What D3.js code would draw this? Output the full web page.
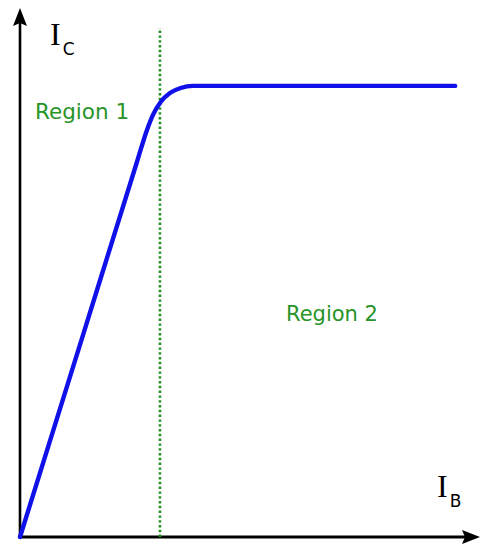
<!DOCTYPE html>
<html>
<head>
<meta charset="utf-8">
<script src="https://cdn.jsdelivr.net/npm/d3@7"></script>
<style>
  html, body { margin: 0; padding: 0; background: #fff; }
  svg { display: block; }
</style>
</head>
<body>
<svg id="chart" width="481" height="547"></svg>
<script>
// Transfer characteristic: collector current vs base current (arbitrary units)
const ibValues = [0, 14.1, 26.0, 28.2, 29.6, 31.3, 33.4, 35.7, 38.4, 96.7];
const icValues = [0, 38.6, 71.2, 77.2, 80.2, 82.6, 84.3, 85.2, 85.6, 85.6];

// Boundary between the two regions
const boundaryIb = [31.1];
const boundaryIc = [0, 96.6];

const regionLabels = ["Region 1", "Region 2"];
const axisLabels = [{ main: "I", sub: "C" }, { main: "I", sub: "B" }];

const svg = d3.select("#chart");

const x = d3.scaleLinear().domain([0, 100]).range([20, 470]);
const y = d3.scaleLinear().domain([0, 100]).range([537, 10]);

const green = "#289428";

// Axes with arrowheads
const ox = x(0), oy = y(0);
svg.append("line")
  .attr("x1", ox).attr("y1", oy)
  .attr("x2", 465).attr("y2", oy)
  .attr("stroke", "#000").attr("stroke-width", 2.8);
svg.append("line")
  .attr("x1", ox).attr("y1", oy + 1.4)
  .attr("x2", ox).attr("y2", 22)
  .attr("stroke", "#000").attr("stroke-width", 2.6);

svg.append("path")
  .attr("d", `M${ox},8 L${ox + 7},26 L${ox},23 L${ox - 7},26 Z`)
  .attr("fill", "#000");
svg.append("path")
  .attr("d", `M480,${oy} L462,${oy - 7} L465,${oy} L462,${oy + 7} Z`)
  .attr("fill", "#000");

// Region boundary (dotted)
svg.append("line")
  .attr("x1", x(boundaryIb[0])).attr("x2", x(boundaryIb[0]))
  .attr("y1", y(boundaryIc[0])).attr("y2", y(boundaryIc[1]))
  .attr("stroke", "#238e23").attr("stroke-width", 2.6)
  .attr("stroke-dasharray", "2.4,2.4");

// Characteristic curve
const pts = ibValues.map((v, i) => [v, icValues[i]]);
const line = d3.line()
  .x(d => x(d[0])).y(d => y(d[1]))
  .curve(d3.curveMonotoneX);
svg.append("path")
  .datum(pts)
  .attr("d", line)
  .attr("fill", "none")
  .attr("stroke", "#1010e8")
  .attr("stroke-width", 4.4)
  .attr("stroke-linecap", "round")
  .attr("stroke-linejoin", "round");

// Region labels
svg.append("text")
  .attr("x", 35).attr("y", 119)
  .attr("font-family", "DejaVu Sans").attr("font-size", 21.5)
  .attr("fill", green)
  .text(regionLabels[0]);
svg.append("text")
  .attr("x", 286).attr("y", 321)
  .attr("font-family", "DejaVu Sans").attr("font-size", 21)
  .attr("fill", green)
  .text(regionLabels[1]);

// Axis labels: serif I with sans subscript
function axisLabel(lbl, px, py) {
  const t = svg.append("text").attr("x", px).attr("y", py);
  t.append("tspan")
    .attr("font-family", "Liberation Serif").attr("font-size", 32)
    .attr("fill", "#000")
    .text(lbl.main);
  t.append("tspan")
    .attr("font-family", "DejaVu Sans").attr("font-size", 17)
    .attr("dx", 2).attr("dy", 10)
    .attr("fill", "#000")
    .text(lbl.sub);
}
axisLabel(axisLabels[0], 50, 45);
axisLabel(axisLabels[1], 437, 497);
</script>
</body>
</html>
